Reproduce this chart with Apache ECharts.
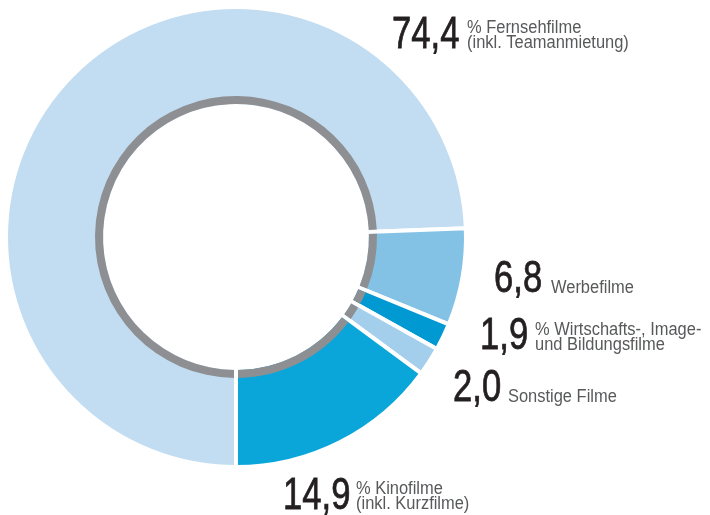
<!DOCTYPE html>
<html>
<head>
<meta charset="utf-8">
<title>Filmproduktion nach Sparten</title>
<script src="https://cdn.jsdelivr.net/npm/echarts@6/dist/echarts.min.js"></script>
<style>
	html, body { margin: 0; padding: 0; background: #fff; }
	#chart { width: 710px; height: 515px; }
</style>
</head>
<body>
<div id="chart"></div>
<script>
/*
 * Daten
 */
var categories = ['Fernsehfilme', 'Werbefilme', 'Wirtschafts-, Image- und Bildungsfilme', 'Sonstige Filme', 'Kinofilme'];
var values = [74.4, 6.8, 1.9, 2.0, 14.9];
var labelTexts = ['% Fernsehfilme\n(inkl. Teamanmietung)', 'Werbefilme', '% Wirtschafts-, Image-\nund Bildungsfilme', 'Sonstige Filme', '% Kinofilme\n(inkl. Kurzfilme)'];
var colors = ['#c2ddf1', '#84c2e5', '#0099d2', '#a4cfec', '#0ba6d9'];

/*
 * Position der Beschriftungen (Zahl links, Text rechts, jeweils Mitte der Großbuchstaben)
 */
var labelPos = [
	{ nx: 392, ny: 36, tx: 467, ty: 28.5 },
	{ nx: 494, ny: 280, tx: 551, ty: 288.5 },
	{ nx: 480, ny: 337, tx: 535, ty: 330 },
	{ nx: 453, ny: 388.5, tx: 508, ty: 397 },
	{ nx: 283, ny: 497, tx: 356, ty: 489 }
];

// keine schmale Schrift vorhanden -> Liberation Sans horizontal stauchen
var FONT_ = '"Liberation Sans", Arial, sans-serif';
var LINE_GAP = 14.8;

var fmt = function(v) {
	return v.toFixed(1).replace('.', ',');
};

var pieData = [];
for (var n = 0; n < values.length; n++) {
	pieData.push({ name: categories[n], value: values[n], itemStyle: { color: colors[n] } });
}

var graphics = [];
for (var i = 0; i < values.length; i++) {
	var p = labelPos[i];
	graphics.push({
		type: 'text', x: p.nx, y: p.ny, scaleX: 0.77, silent: true,
		style: {
			text: fmt(values[i]), font: '45px ' + FONT_, fill: '#231f20',
			stroke: '#231f20', lineWidth: 0.8,
			textAlign: 'left', textVerticalAlign: 'middle'
		}
	});
	var lines = labelTexts[i].split('\n');
	for (var k = 0; k < lines.length; k++) {
		graphics.push({
			type: 'text', x: p.tx, y: p.ty + k * LINE_GAP, scaleX: 0.94, silent: true,
			style: {
				text: lines[k], font: '17.5px ' + FONT_, fill: '#58595b',
				textAlign: 'left', textVerticalAlign: 'middle'
			}
		});
	}
}

var chart = echarts.init(document.getElementById('chart'));
var option = {
	animation: false,
	series: [
		{
			type: 'pie',
			center: [236, 237],
			radius: [131, 230],
			startAngle: 270,
			clockwise: true,
			silent: true,
			label: { show: false },
			labelLine: { show: false },
			itemStyle: { borderColor: '#ffffff', borderWidth: 4 },
			data: pieData
		},
		{
			// grauer Innenring
			type: 'pie',
			center: [236, 237],
			radius: [133, 141],
			startAngle: 270,
			clockwise: true,
			padAngle: 1.7,
			silent: true,
			label: { show: false },
			labelLine: { show: false },
			itemStyle: { color: '#8e8f93' },
			data: values.map(function(v, k) { return { name: categories[k], value: v }; })
		}
	],
	graphic: graphics
};
chart.setOption(option);
</script>
</body>
</html>
